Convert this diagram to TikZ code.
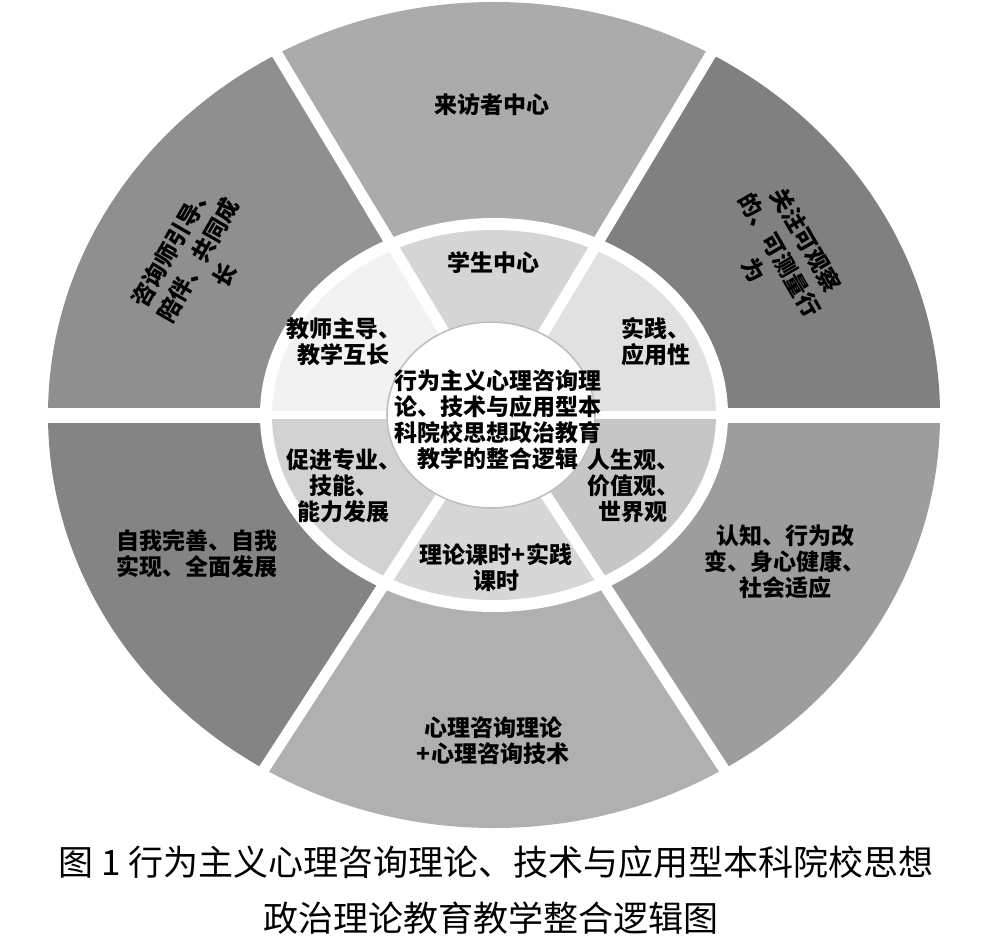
\documentclass[tikz,border=0pt]{standalone}
\usepackage{fontspec}
\setmainfont{Noto Sans CJK SC}
\usepackage{xcolor}
\usepackage{tikz}
% outer ring shades
\definecolor{oTop}{HTML}{ABABAB}
\definecolor{oUR}{HTML}{808080}
\definecolor{oUL}{HTML}{8F8F8F}
\definecolor{oLL}{HTML}{848484}
\definecolor{oLR}{HTML}{9D9D9D}
\definecolor{oBot}{HTML}{B0B0B0}
% middle ring shades
\definecolor{mTop}{HTML}{D5D5D5}
\definecolor{mUR}{HTML}{E1E1E1}
\definecolor{mUL}{HTML}{F2F2F2}
\definecolor{mLL}{HTML}{D2D2D2}
\definecolor{mLR}{HTML}{C6C6C6}
\definecolor{mBot}{HTML}{D7D7D7}
\tikzset{
  ringtext/.style={font=\bfseries\fontsize{11.5}{13}\selectfont,align=center,text=black,inner sep=0pt},
  tilttext/.style={font=\bfseries\fontsize{11.5}{15}\selectfont,align=center,text=black,inner sep=0pt},
  captext/.style={font=\fontsize{17.5}{28}\selectfont,text=black,inner sep=0pt},
  gapline/.style={draw=white,line cap=butt}
}
% #1 colour, #2 from angle, #3 to angle, #4 x radius, #5 y radius
\newcommand{\ringwedge}[5]{%
  \begin{scope}
    \clip (0,0) -- (#2:1500) -- ({(#2+#3)/2}:1500) -- (#3:1500) -- cycle;
    \fill[#1] (0,0) ellipse[x radius=#4,y radius=#5];
  \end{scope}}

\begin{document}
\begin{tikzpicture}[x=0.5pt,y=0.5pt]
\useasboundingbox (-494,-533) rectangle (489,415);

% ===== OUTER RING =====
\ringwedge{oUR}{0}{59}{446}{413}
\ringwedge{oTop}{59}{121}{446}{413}
\ringwedge{oUL}{121}{180}{446}{413}
\ringwedge{oLL}{180}{237}{446}{413}
\ringwedge{oBot}{237}{303}{446}{413}
\ringwedge{oLR}{303}{360}{446}{413}
\draw[gapline,line width=7.5pt] (180:520) -- (0:520);
\foreach \a in {59,121,237,303}
  \draw[gapline,line width=5.5pt] (0,0) -- (\a:520);
\fill[white] (0,0) ellipse[x radius=234,y radius=197];

% ===== MIDDLE RING =====
\ringwedge{mUR}{0}{59}{222}{185}
\ringwedge{mTop}{59}{121}{222}{185}
\ringwedge{mUL}{121}{180}{222}{185}
\ringwedge{mLL}{180}{237}{222}{185}
\ringwedge{mBot}{237}{303}{222}{185}
\ringwedge{mLR}{303}{360}{222}{185}
\draw[gapline,line width=4pt] (180:240) -- (0:240);
\foreach \a in {59,121,237,303}
  \draw[gapline,line width=5.5pt] (0,0) -- (\a:240);
\filldraw[fill=white,draw=black!25,line width=0.8pt] (-3,0) ellipse[x radius=104,y radius=93];

% ===== LABELS =====
\node[ringtext] (visitor) at (-2,310) {来访者中心};
\node[tilttext,rotate=-60] (behave) at (286,160) {关注可观察\\的、可测量行\\为};
\node[tilttext,rotate=60] (guide) at (-296,155) {咨询师引导、\\陪伴、共同成\\长};
\node[ringtext] (selfdev) at (-297,-139) {自我完善、自我\\实现、全面发展};
\node[ringtext] (change) at (291,-147) {认知、行为改\\变、身心健康、\\社会适应};
\node[ringtext] (theory) at (-1,-326) {心理咨询理论\\+心理咨询技术};

\node[ringtext] (student) at (-1,152) {学生中心};
\node[ringtext,align=left,anchor=west] (practice) at (127,73) {实践、\\应用性};
\node[ringtext] (teacher) at (-150,73) {教师主导、\\教学互长};
\node[ringtext] (ability) at (-150,-71) {促进专业、\\技能、\\能力发展};
\node[ringtext] (values) at (139,-71) {人生观、\\价值观、\\世界观};
\node[ringtext] (hours) at (2,-153) {理论课时+实践\\课时};

\node[ringtext] (core) at (4,-5) {行为主义心理咨询理\\论、技术与应用型本\\科院校思想政治教育\\教学的整合逻辑};

% ===== CAPTION =====
\node[captext] (capA) at (2,-447) {图 1 行为主义心理咨询理论、技术与应用型本科院校思想};
\node[captext] (capB) at (-3,-503) {政治理论教育教学整合逻辑图};
\end{tikzpicture}
\end{document}
